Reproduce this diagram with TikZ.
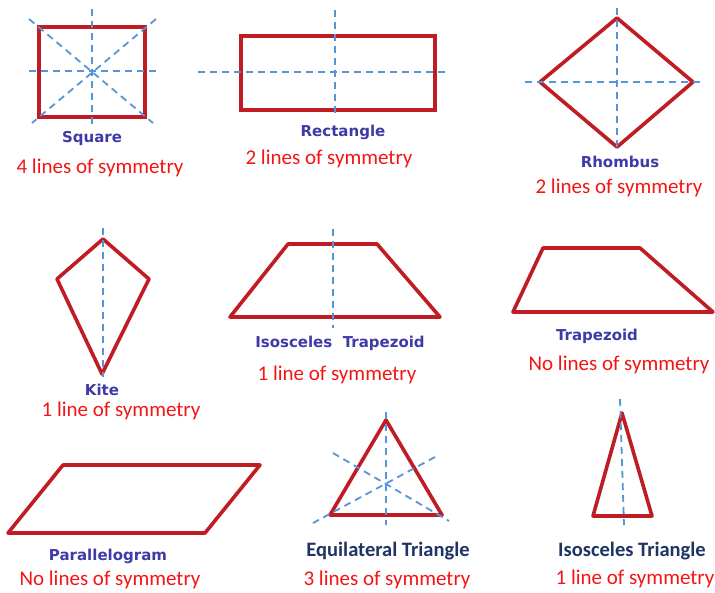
\documentclass[tikz,border=0pt]{standalone}
\usepackage{fontspec}
\setmainfont{Carlito}
\newfontfamily\labfont{DejaVu Sans}
\definecolor{shapered}{RGB}{192,28,36}
\definecolor{symblue}{RGB}{84,150,216}
\definecolor{labblue}{RGB}{62,58,168}
\definecolor{navy}{RGB}{31,52,100}
\definecolor{txtred}{RGB}{245,20,20}
\tikzset{
  shapeline/.style={draw=shapered,line width=3.6pt,line join=round},
  thickline/.style={draw=shapered,line width=4.8pt,line join=miter},
  symline/.style={draw=symblue,line width=1.8pt,dash pattern=on 7pt off 5pt},
  namelab/.style={text=labblue,font=\labfont\bfseries\fontsize{15}{18}\selectfont,inner sep=0pt},
  navylab/.style={text=navy,font=\bfseries\fontsize{20.5}{24}\selectfont,inner sep=0pt},
  countlab/.style={text=txtred,font=\fontsize{21}{25}\selectfont,inner sep=0pt}
}
\begin{document}
\begin{tikzpicture}[x=1pt,y=-1pt]
\useasboundingbox (0,0) rectangle (715,592);
\fill[white] (0,0) rectangle (715,592);

% Square
\draw[thickline] (39,27) rectangle (145,117);
\draw[symline] (92,9) -- (92,126);
\draw[symline] (29,71) -- (159,71);
\draw[symline] (29,19) -- (153,123);
\draw[symline] (156,19) -- (32,123);
\node[namelab] (sq) at (92,138) {Square};
\node[countlab] (sqc) at (100,168) {4 lines of symmetry};

% Rectangle
\draw[thickline] (241,36) rectangle (435,110);
\draw[symline] (198,72) -- (445,72);
\draw[symline] (335,10) -- (335,118);
\node[namelab] (re) at (343,132) {Rectangle};
\node[countlab] (rec) at (329,159) {2 lines of symmetry};

% Rhombus
\draw[shapeline] (617,18) -- (693,82) -- (617,147) -- (540,82) -- cycle;
\draw[symline] (617,8) -- (617,148);
\draw[symline] (525,82) -- (703,82);
\node[namelab] (rh) at (620,162) {Rhombus};
\node[countlab] (rhc) at (619,188) {2 lines of symmetry};

% Kite
\draw[shapeline] (103,239) -- (149,279) -- (102,374) -- (57,279) -- cycle;
\draw[symline] (103,228) -- (103,377);
\node[namelab] (ki) at (102,390) {Kite};
\node[countlab] (kic) at (121,411) {1 line of symmetry};

% Isosceles trapezoid
\draw[shapeline] (288,244) -- (377,244) -- (440,317) -- (230,317) -- cycle;
\draw[symline] (333,229) -- (333,328);
\node[namelab] (it) at (340,343) {Isosceles\ \ Trapezoid};
\node[countlab] (itc) at (337,375) {1 line of symmetry};

% Trapezoid
\draw[shapeline] (543,248) -- (640,248) -- (713,312) -- (513,312) -- cycle;
\node[namelab] (tr) at (597,336) {Trapezoid};
\node[countlab] (trc) at (619,365) {No lines of symmetry};

% Parallelogram
\draw[shapeline] (63,465) -- (260,465) -- (205,533) -- (8,533) -- cycle;
\node[namelab] (pa) at (108,556) {Parallelogram};
\node[countlab] (pac) at (110,580) {No lines of symmetry};

% Equilateral triangle
\draw[shapeline] (386,420) -- (442,515) -- (330,515) -- cycle;
\draw[symline] (386,412) -- (386,525);
\draw[symline] (333,453) -- (449,521);
\draw[symline] (435,457) -- (313,523);
\node[navylab] (eq) at (388,551) {Equilateral Triangle};
\node[countlab] (eqc) at (387,580) {3 lines of symmetry};

% Isosceles triangle
\draw[shapeline] (622,413) -- (652,516) -- (593,516) -- cycle;
\draw[symline] (620,399) -- (624,525);
\node[navylab] (is) at (632,551) {Isosceles Triangle};
\node[countlab] (isc) at (635,579) {1 line of symmetry};
\end{tikzpicture}
\end{document}
